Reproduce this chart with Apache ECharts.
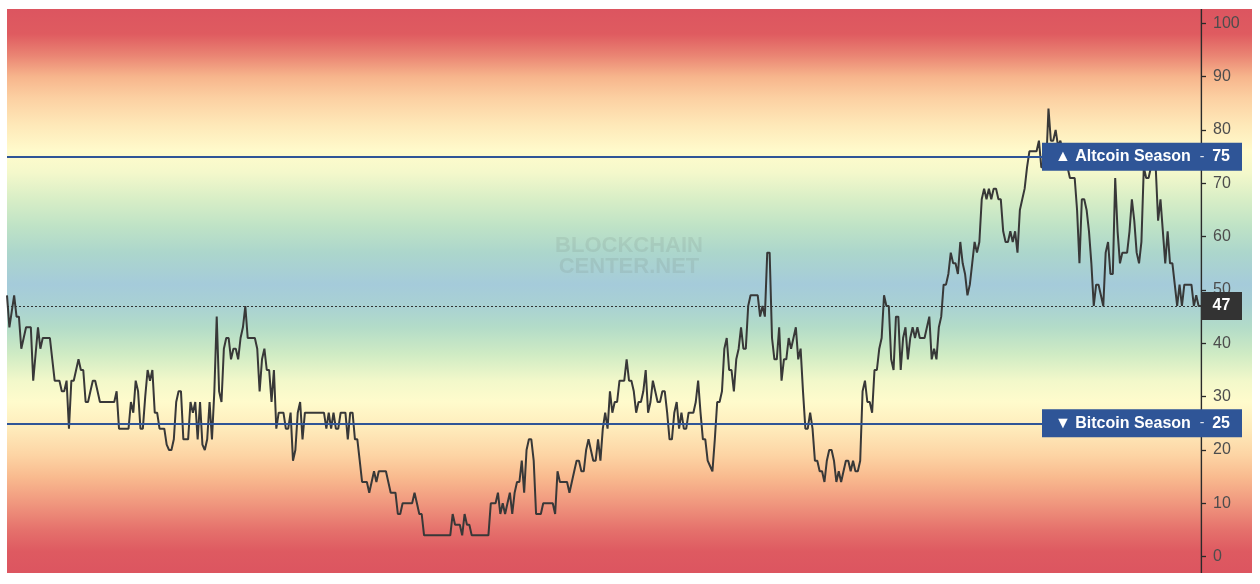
<!DOCTYPE html>
<html><head><meta charset="utf-8">
<script src="https://cdn.jsdelivr.net/npm/echarts@6/dist/echarts.min.js"></script>
<style>html,body{margin:0;padding:0;background:#fff;}#c{width:1260px;height:584px;}</style>
</head><body><div id="c"></div>
<script>
// Altcoin Season Index, one value per day
const indexValues = [
49,43,46,49,45,45,39,41,43,43,
43,33,38,43,39,41,41,41,41,37,
33,33,33,31,31,33,24,33,33,35,
37,35,35,29,29,31,33,33,31,29,
29,29,29,29,29,29,31,24,24,24,
24,24,29,27,33,31,24,24,30,35,
33,35,27,27,24,24,24,21,20,20,
22,29,31,31,22,22,22,29,27,29,
22,29,21,20,22,29,22,31,45,31,
29,39,41,41,37,39,39,37,41,43,
47,41,41,41,41,39,31,37,39,35,
35,29,35,24,27,27,27,24,24,27,
18,20,27,29,22,27,27,27,27,27,
27,27,27,27,24,27,24,27,24,24,
27,27,27,22,27,27,22,22,18,14,
14,14,12,14,16,14,16,16,16,16,
14,12,12,12,8,8,10,10,10,10,
10,12,10,8,8,4,4,4,4,4,
4,4,4,4,4,4,4,8,6,6,
6,4,8,6,6,4,4,4,4,4,
4,4,4,10,10,10,12,8,10,8,
10,12,8,12,14,14,18,12,20,22,
22,18,8,8,8,10,10,10,10,10,
8,16,14,14,14,14,12,14,16,18,
18,16,16,20,22,20,18,18,22,18,
24,27,24,31,27,29,29,33,33,33,
37,33,33,31,27,29,29,31,35,27,
29,33,31,29,29,31,31,27,22,22,
27,29,24,27,24,24,27,27,27,29,
33,27,22,22,18,17,16,22,29,29,
31,39,41,35,35,31,37,39,43,39,
39,47,49,49,49,49,45,47,45,57,
57,41,37,37,43,33,37,37,41,39,
41,43,37,39,31,24,24,27,24,18,
18,16,16,14,18,20,20,18,14,16,
14,16,18,18,16,18,16,16,18,31,
33,29,29,27,35,35,39,41,49,47,
47,37,35,45,45,35,41,43,37,41,
43,41,43,41,41,41,43,45,37,39,
37,43,45,51,51,53,57,55,55,53,
59,55,53,49,51,55,59,57,59,67,
69,67,69,67,69,69,67,67,61,59,
59,61,59,61,57,65,67,69,73,76,
76,76,76,78,73,73,73,84,78,78,
80,77,78,76,76,73,71,71,71,65,
55,67,67,65,61,55,47,51,51,49,
47,57,59,53,53,71,61,55,57,57,
57,61,67,63,57,55,59,73,71,71,
73,76,73,63,67,61,55,61,55,55,
51,47,51,47,51,51,51,51,47,49,
47,47
];
const dayLabels = indexValues.map((v, i) => 'Day ' + (i + 1));
const yTickValues = [0,10,20,30,40,50,60,70,80,90,100];
const altcoinLevel = 75;
const bitcoinLevel = 25;
const altcoinText = 'Altcoin Season';
const bitcoinText = 'Bitcoin Season';
const watermark = 'BLOCKCHAIN\nCENTER.NET';
const currentValue = indexValues[indexValues.length - 1];

// axis range (slightly beyond 0..100 like the reference)
const Y_MIN = -3.06, Y_MAX = 102.68;
// background colour bands: [value, colour]
const bandStops = [
  [102.7,'#dc5560'],[98,'#df5b60'],[94,'#ea8473'],[90,'#f7b58c'],[86,'#fcd0a2'],
  [81,'#fee8b8'],[76,'#fffbcc'],[72,'#f4f8cb'],[67,'#d8eec6'],[62,'#bfe3c6'],
  [57,'#acd6cc'],[51,'#a5cbda'],[47,'#a9d1d3'],[43,'#b3dcc8'],[38,'#cfebc4'],
  [33,'#f2f8ca'],[29,'#fffbcc'],[24,'#feebbb'],[19,'#fdd4a4'],[15,'#f9bb8f'],
  [10,'#f0977e'],[5,'#e5716c'],[1,'#de5a61'],[-3.1,'#dc5560']
];

const GRID = {left: 7, right: 59, top: 9, bottom: 11};
const W = 1260, H = 584;
const BLUE = '#2f5597';
const FONT = '"Liberation Sans", Arial, sans-serif';
const AXIS_X = W - GRID.right + 0.4;

const gradStops = bandStops.map(s => ({
  offset: Math.min(1, Math.max(0, (Y_MAX - s[0]) / (Y_MAX - Y_MIN))),
  color: s[1]
}));

const chart = echarts.init(document.getElementById('c'), null, {renderer: 'canvas'});

function seasonLabel(arrow, text, level) {
  return {
    show: true,
    position: 'end',
    distance: -159,
    formatter: '{a|' + arrow + ' ' + text + '}{b|-}{c|' + level + '}',
    backgroundColor: BLUE,
    padding: [5, 12, 5, 13],
    rich: {
      a: {width: 140, color: '#fff', fontSize: 16, fontWeight: 'bold', fontFamily: FONT, lineHeight: 18},
      b: {width: 14, align: 'center', color: 'rgba(255,255,255,0.85)', fontSize: 14, fontFamily: FONT, lineHeight: 18},
      c: {width: 21, align: 'right', color: '#fff', fontSize: 16, fontWeight: 'bold', fontFamily: FONT, lineHeight: 18}
    }
  };
}

chart.setOption({
  animation: false,
  backgroundColor: '#fff',
  grid: {left: GRID.left, right: GRID.right, top: GRID.top, bottom: GRID.bottom, containLabel: false},
  graphic: [
    {
      type: 'rect', z: -10, silent: true,
      shape: {x: GRID.left, y: GRID.top, width: 1252 - GRID.left, height: H - GRID.top - GRID.bottom},
      style: {fill: new echarts.graphic.LinearGradient(0, 0, 0, 1, gradStops)}
    },
    {
      type: 'text', z: -5, silent: true,
      x: 629, y: 235,
      style: {text: watermark, textAlign: 'center', font: 'bold 22px ' + FONT, fill: 'rgba(110,120,115,0.15)', lineHeight: 21}
    },
    {
      type: 'line', z: 0, silent: true,
      shape: {x1: AXIS_X, y1: GRID.top, x2: AXIS_X, y2: H - GRID.bottom},
      style: {stroke: '#2a2a2a', lineWidth: 1.4}
    }
  ],
  xAxis: {
    type: 'category', data: dayLabels, boundaryGap: false, show: false
  },
  yAxis: {
    type: 'value', position: 'right', min: Y_MIN, max: Y_MAX,
    splitLine: {show: false},
    axisLine: {show: false},
    axisTick: {show: true, length: 5, customValues: yTickValues, lineStyle: {color: '#2a2a2a', width: 1.3}},
    axisLabel: {customValues: yTickValues, color: '#4d4d4d', fontSize: 16, fontFamily: FONT, margin: 12}
  },
  series: [
    {
      type: 'line', data: indexValues, z: 1, silent: true, showSymbol: false,
      lineStyle: {opacity: 0},
      markLine: {
        silent: true, symbol: ['none', 'none'], animation: false,
        emphasis: {disabled: true},
        data: [
          {yAxis: altcoinLevel, lineStyle: {color: BLUE, width: 2, type: 'solid'}, label: seasonLabel('▲', altcoinText, altcoinLevel)},
          {yAxis: bitcoinLevel, lineStyle: {color: BLUE, width: 2, type: 'solid'}, label: seasonLabel('▼', bitcoinText, bitcoinLevel)},
          {yAxis: currentValue, lineStyle: {color: '#333', width: 1, type: [2, 2]},
           label: {show: true, position: 'end', distance: 0, formatter: '{v|' + currentValue + '}',
                   backgroundColor: '#333', padding: [5, 0, 5, 0],
                   rich: {v: {width: 41, align: 'center', color: '#fff', fontSize: 16, fontWeight: 'bold', fontFamily: FONT, lineHeight: 18}}}}
        ]
      }
    },
    {
      type: 'line', data: indexValues, z: 3, silent: true, showSymbol: false,
      lineStyle: {color: '#383838', width: 2}
    }
  ]
});
</script>
</body></html>
